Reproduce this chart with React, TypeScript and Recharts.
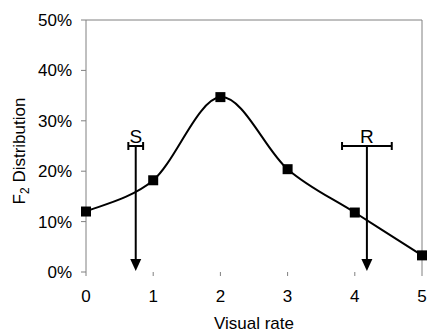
import {
  ComposedChart,
  Line,
  XAxis,
  YAxis,
  ReferenceLine,
} from 'recharts';

// F2 distribution by visual rate
const rates = [0, 1, 2, 3, 4, 5];
const shares = [12, 18.2, 34.7, 20.4, 11.8, 3.3];
const yTicks = [0, 10, 20, 30, 40, 50];

// parent markers S and R (mean rate with spread)
const markerNames = ['S', 'R'];
const markerRates = [0.74, 4.18];
const markerSpread = [0.11, 0.37];
const markerLevel = 25;

const data = rates.map((r, i) => ({ rate: r, share: shares[i] }));

const font = '"Liberation Sans", Arial, sans-serif';
const gray = '#808080';

// smoothed line similar to Excel's "smoothed line" option
const smoothCurve = (context: any) => {
  let pts: number[][] = [];
  return {
    areaStart() {},
    areaEnd() {},
    lineStart() {
      pts = [];
    },
    point(x: number, y: number) {
      pts.push([x, y]);
    },
    lineEnd() {
      if (!pts.length) return;
      context.moveTo(pts[0][0], pts[0][1]);
      for (let i = 0; i < pts.length - 1; i++) {
        const p0 = pts[i - 1] || pts[i];
        const p1 = pts[i];
        const p2 = pts[i + 1];
        const p3 = pts[i + 2] || p2;
        context.bezierCurveTo(
          p1[0] + (p2[0] - p0[0]) / 6,
          p1[1] + (p2[1] - p0[1]) / 6,
          p2[0] - (p3[0] - p1[0]) / 6,
          p2[1] - (p3[1] - p1[1]) / 6,
          p2[0],
          p2[1]
        );
      }
    },
  };
};

const SquareDot = (props: any) => {
  const { cx, cy, index } = props;
  return <rect key={index} x={cx - 5} y={cy - 5} width={10} height={10} fill="#000" />;
};

const Arrow = (props: any) => {
  const { x1, y1, x2, y2 } = props;
  return (
    <g>
      <line x1={x1} y1={y1} x2={x2} y2={y2 - 10} stroke="#000" strokeWidth={2} />
      <polygon points={`${x2 - 5.5},${y2 - 13} ${x2 + 5.5},${y2 - 13} ${x2},${y2 - 1}`} fill="#000" />
    </g>
  );
};

const spreadBar = (name: string) => (props: any) => {
  const { x1, y1, x2, y2 } = props;
  const mid = (x1 + x2) / 2;
  return (
    <g>
      <line x1={x1} y1={y1} x2={x2} y2={y2} stroke="#000" strokeWidth={2} />
      <line x1={x1} y1={y1 - 4} x2={x1} y2={y1 + 4} stroke="#000" strokeWidth={2} />
      <line x1={x2} y1={y2 - 4} x2={x2} y2={y2 + 4} stroke="#000" strokeWidth={2} />
      <text x={mid} y={y1 - 3} textAnchor="middle" fontSize={19} fontFamily={font} fill="#000">
        {name}
      </text>
    </g>
  );
};

const YLabel = () => (
  <text
    x={25}
    y={151}
    transform="rotate(-90 25 151)"
    textAnchor="middle"
    fontSize={17}
    fontFamily={font}
    fill="#000"
  >
    <tspan>F</tspan>
    <tspan fontSize={12} dy={4}>2</tspan>
    <tspan dy={-4}> Distribution</tspan>
  </text>
);

export default function App() {
  return (
    <div style={{ position: 'absolute', left: 0, top: 0, background: '#fff' }}>
      <ComposedChart
        width={428}
        height={333}
        data={data}
        margin={{ top: 20, right: 6, left: 0, bottom: 0 }}
      >
        <XAxis
          dataKey="rate"
          type="number"
          domain={[0, 5]}
          ticks={rates}
          axisLine={false}
          tickSize={4}
          tickMargin={14}
          tickLine={{ stroke: gray }}
          tick={{ fill: '#000', fontSize: 17, fontFamily: font }}
          height={61}
          label={{
            value: 'Visual rate',
            position: 'insideBottom',
            offset: 4,
            fill: '#000',
            fontSize: 17,
            fontFamily: font,
          }}
        />
        <YAxis
          type="number"
          domain={[0, 50]}
          ticks={yTicks}
          tickFormatter={(v) => `${v}%`}
          width={86}
          axisLine={{ stroke: gray }}
          tickLine={{ stroke: gray }}
          tickSize={5}
          tickMargin={9}
          tick={{ fill: '#000', fontSize: 17, fontFamily: font }}
          label={<YLabel />}
        />
        <ReferenceLine y={50} stroke={gray} />
        <ReferenceLine x={5} stroke={gray} />
        {markerNames.map((name, i) => (
          <ReferenceLine
            key={`arrow-${name}`}
            segment={[
              { x: markerRates[i], y: markerLevel },
              { x: markerRates[i], y: 0 },
            ]}
            shape={Arrow}
          />
        ))}
        {markerNames.map((name, i) => (
          <ReferenceLine
            key={`bar-${name}`}
            segment={[
              { x: markerRates[i] - markerSpread[i], y: markerLevel },
              { x: markerRates[i] + markerSpread[i], y: markerLevel },
            ]}
            shape={spreadBar(name)}
          />
        ))}
        <Line
          dataKey="share"
          type={smoothCurve as any}
          stroke="#000"
          strokeWidth={2}
          dot={SquareDot}
          activeDot={false}
          isAnimationActive={false}
        />
      </ComposedChart>
    </div>
  );
}
